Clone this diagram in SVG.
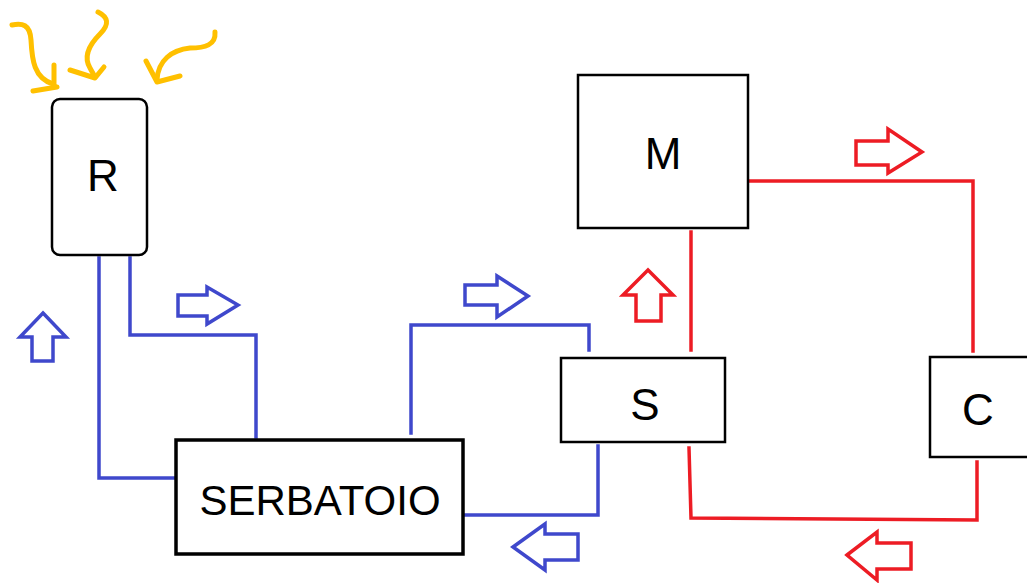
<svg xmlns="http://www.w3.org/2000/svg" width="1027" height="583" viewBox="0 0 1027 583">
<style>
.box{fill:#fff;stroke:#000;stroke-width:2.5}
.lbl{font-family:"Liberation Sans",Arial,sans-serif;font-size:44px;fill:#000;text-anchor:middle}
.b{fill:none;stroke:#3F48CC;stroke-width:3.5;stroke-linecap:square;stroke-linejoin:miter}
.r{fill:none;stroke:#ED1C24;stroke-width:3.5;stroke-linecap:square}
.ba{fill:#fff;stroke:#3F48CC;stroke-width:3.5;stroke-linejoin:miter}
.ra{fill:#fff;stroke:#ED1C24;stroke-width:3.5;stroke-linejoin:miter}
.y{fill:none;stroke:#FFC000;stroke-width:5;stroke-linecap:round;stroke-linejoin:round}
</style>
<g id="connectors">
<path class="b" d="M99,258 L99,478 L176,478"/>
<path class="b" d="M130,258 L130,335 L256,335 L256,437"/>
<path class="b" d="M411,433 L411,325 L589,325 L589,350"/>
<path class="b" d="M598,446 L598,515 L465,515"/>
<path class="r" d="M749,181 L973,181 L973,351"/>
<path class="r" d="M691,232 L691,350"/>
<path class="r" d="M689,448 L691,518 L977,520 L977,462"/>
</g>
<g id="flow-arrows">
<polygon class="ba" points="43,313 66,337 53,337 53,361 32,361 32,337 20,337"/>
<polygon class="ba" points="178,295 207,295 207,287 238,305 207,324 207,316 178,316"/>
<polygon class="ba" points="465,285 497,285 497,276 528,296 497,317 497,305 465,305"/>
<polygon class="ba" points="513,547 545,524 545,534 578,534 578,560 545,560 545,570"/>
<polygon class="ra" points="856,141 888,141 888,129 922,152 888,173 888,165 856,165"/>
<polygon class="ra" points="847,555 877,532 877,543 911,543 911,569 877,569 877,580"/>
<polygon class="ra" points="648,270 673,295 661,295 661,321 636,321 636,295 623,295"/>
</g>
<g id="sun-rays">
<path class="y" d="M12,25 C22,23 30,24 31,40 C32,60 34,78 53,84"/>
<path class="y" d="M54,65 L54,87 M33,91 L57,87"/>
<path class="y" d="M98,12 C108,17 110,24 100,34 C88,46 84,58 90,68 L95,77"/>
<path class="y" d="M70,70 L95,78 L104,67"/>
<path class="y" d="M215,32 C216,45 205,48 190,48 C172,50 158,60 157,80"/>
<path class="y" d="M146,61 L157,82 L180,76"/>
</g>
<g id="node-R">
<rect class="box" x="52" y="99" width="95" height="156" rx="8"/>
<text class="lbl" x="103" y="191">R</text>
</g>
<g id="node-M">
<rect class="box" x="578" y="75" width="170" height="153"/>
<text class="lbl" x="663" y="169">M</text>
</g>
<g id="node-S">
<rect class="box" x="561" y="358" width="164" height="84"/>
<text class="lbl" x="645" y="420">S</text>
</g>
<g id="node-C">
<rect class="box" x="930" y="357" width="100" height="100"/>
<text class="lbl" x="978" y="425">C</text>
</g>
<g id="node-SERBATOIO">
<rect class="box" x="176" y="440" width="287" height="114" style="stroke-width:3.5"/>
<text class="lbl" x="320" y="515" style="font-size:42px">SERBATOIO</text>
</g>
</svg>
